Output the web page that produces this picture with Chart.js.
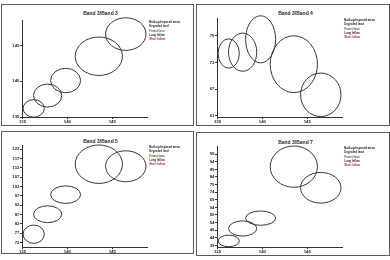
<!DOCTYPE html>
<html>
<head>
<meta charset="utf-8">
<script src="https://cdn.jsdelivr.net/npm/chart.js@4.4.1/dist/chart.umd.min.js"></script>
<style>
  body { margin: 0; background: #fff; width: 390px; height: 260px; overflow: hidden; position: relative; }
  canvas { position: absolute; }
  .frame { position: absolute; border: 1px solid #5c5c5c; pointer-events: none; }
</style>
</head>
<body>
<canvas id="p1" width="195" height="130" style="left:0;top:0"></canvas>
<canvas id="p2" width="195" height="130" style="left:195px;top:0"></canvas>
<canvas id="p3" width="195" height="130" style="left:0;top:130px"></canvas>
<canvas id="p4" width="195" height="130" style="left:195px;top:130px"></canvas>
<div class="frame" style="left:1px;top:4px;width:191px;height:120px"></div>
<div class="frame" style="left:196px;top:4px;width:192px;height:120px"></div>
<div class="frame" style="left:1px;top:131px;width:191px;height:121px"></div>
<div class="frame" style="left:196px;top:132px;width:192px;height:122px"></div>
<script>
// land cover classes and legend text colours
const classes = ['Built-up/exposed areas', 'Degraded land', 'Forest farm', 'Long fallow', 'Short fallow'];
const labelColors = ['#111111', '#1e1e1e', '#5b5520', '#2a2a2a', '#a5342c'];

// band 3 (x axis in every panel): class means and spread
const band3Mean = [146.5, 143.5, 136.25, 137.8, 139.8];
const band3Spread = [2.25, 2.63, 1.18, 1.57, 1.67];

// y axis values for each panel
const band3YMean = [146.6, 143.5, 136.2, 138.0, 140.1];
const band3YSpread = [2.28, 2.69, 1.23, 1.61, 1.71];
const band4Mean = [65.7, 72.6, 75.0, 75.3, 78.2];
const band4Spread = [4.9, 6.4, 3.3, 4.3, 5.3];
const band5Mean = [112.9, 114.0, 76.5, 87.2, 97.7];
const band5Spread = [8.3, 10.3, 4.9, 4.5, 4.7];
const band7Mean = [76.9, 90.8, 41.9, 50.1, 56.9];
const band7Spread = [10.1, 13.6, 3.8, 5.0, 4.7];

// tick labels
const xTicks = [135, 140, 145];
const band3Ticks = [135, 140, 145];
const band4Ticks = [61, 67, 73, 79];
const band5Ticks = [72, 77, 82, 87, 92, 97, 102, 107, 112, 117, 122];
const band7Ticks = [39, 44, 49, 54, 59, 64, 69, 74, 79, 84, 89, 94, 99];

const FONT = '"Liberation Sans", Arial, sans-serif';
const INK = '#262626';

// draws each class as an ellipse (mean +/- spread) through the chart scales
const ellipsePlugin = {
  id: 'ellipses',
  afterDatasetsDraw(chart) {
    const { ctx, scales: { x, y } } = chart;
    ctx.save();
    ctx.strokeStyle = '#3d3531';
    ctx.lineWidth = 1;
    chart.data.datasets.forEach(ds => {
      ds.data.forEach(p => {
        const cx = x.getPixelForValue(p.x);
        const cy = y.getPixelForValue(p.y);
        const rx = Math.abs(x.getPixelForValue(p.x + p.sx) - cx);
        const ry = Math.abs(y.getPixelForValue(p.y + p.sy) - cy);
        ctx.beginPath();
        ctx.ellipse(cx, cy, rx, ry, 0, 0, Math.PI * 2);
        ctx.stroke();
      });
    });
    ctx.restore();
  }
};

function makePanel(id, title, yMean, ySpread, yTicks, yMin, yMax, top, titleY) {
  const datasets = classes.map((name, i) => ({
    label: name,
    data: [{ x: band3Mean[i], y: yMean[i], sx: band3Spread[i], sy: ySpread[i] }],
    pointRadius: 0,
    showLine: false
  }));

  new Chart(document.getElementById(id), {
    type: 'scatter',
    data: { datasets },
    plugins: [ellipsePlugin],
    options: {
      responsive: false,
      animation: false,
      events: [],
      layout: { padding: { left: 11, right: 5, top: 0, bottom: 5 } },
      plugins: {
        tooltip: { enabled: false },
        title: {
          display: true,
          text: title,
          color: INK,
          font: { family: FONT, size: 5, lineHeight: 1.2 },
          padding: { top: titleY - 3, bottom: Math.max(0, top - titleY - 3) }
        },
        legend: {
          position: 'right',
          align: 'start',
          fullSize: false,
          labels: {
            boxWidth: 0,
            boxHeight: 3.8,
            padding: 0.5,
            font: { family: FONT, size: 2.8, weight: 'bold' },
            generateLabels: chart => chart.data.datasets.map((ds, i) => ({
              text: ds.label,
              fontColor: labelColors[i],
              fillStyle: 'rgba(0,0,0,0)',
              strokeStyle: 'rgba(0,0,0,0)',
              lineWidth: 0,
              hidden: false,
              datasetIndex: i
            }))
          }
        }
      },
      scales: {
        x: {
          type: 'linear',
          min: 135,
          max: 148.9,
          afterBuildTicks: s => { s.ticks = xTicks.map(v => ({ value: v })); },
          afterFit: s => { s.height = 8; },
          ticks: { color: INK, font: { family: FONT, size: 4.3, weight: 'bold' }, padding: 0, maxRotation: 0, autoSkip: false },
          grid: { drawOnChartArea: false, tickLength: 2, color: '#333' },
          border: { color: '#333', width: 1 }
        },
        y: {
          type: 'linear',
          min: yMin,
          max: yMax,
          afterBuildTicks: s => { s.ticks = yTicks.map(v => ({ value: v })); },
          afterFit: s => { s.width = 11.5; },
          ticks: { color: INK, font: { family: FONT, size: 4.3, weight: 'bold' }, padding: 0.5, autoSkip: false },
          grid: { drawOnChartArea: false, tickLength: 2.5, color: '#333' },
          border: { color: '#333', width: 1 }
        }
      }
    }
  });
}

makePanel('p1', 'Band 3/Band 3', band3YMean, band3YSpread, band3Ticks, 135, 148.57, 20, 14);
makePanel('p2', 'Band 3/Band 4', band4Mean, band4Spread, band4Ticks, 60.7, 83.0, 18, 14);
makePanel('p3', 'Band 3/Band 5', band5Mean, band5Spread, band5Ticks, 69.64, 124.3, 15, 12);
makePanel('p4', 'Band 3/Band 7', band7Mean, band7Spread, band7Ticks, 37.9, 104.4, 15, 13);
</script>
</body>
</html>
